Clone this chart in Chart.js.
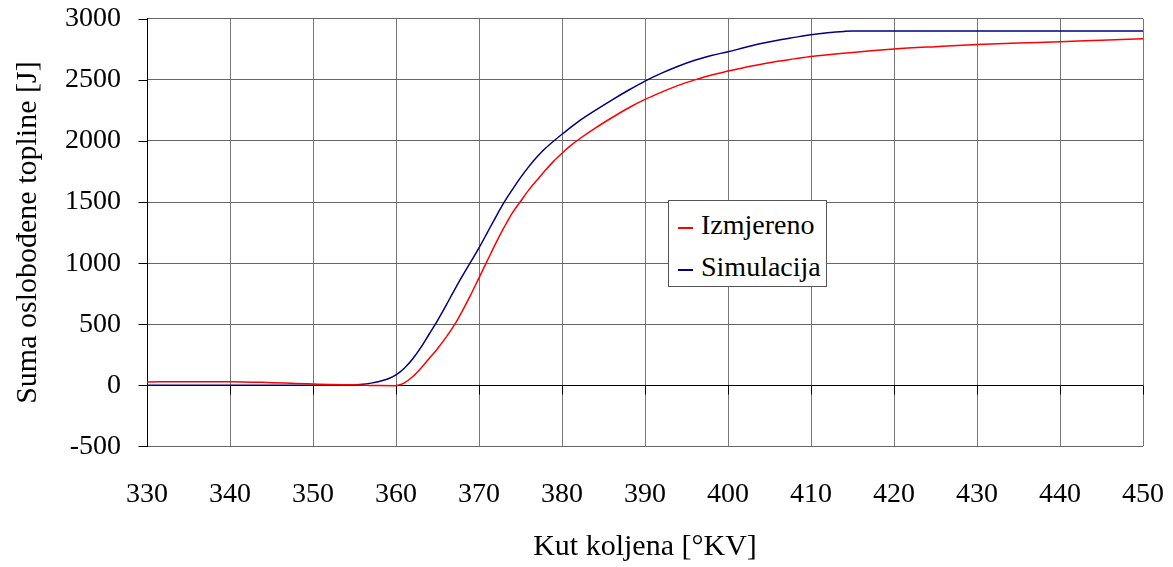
<!DOCTYPE html>
<html>
<head>
<meta charset="utf-8">
<script src="https://cdn.jsdelivr.net/npm/chart.js@4"></script>
<style>
  html, body { margin: 0; padding: 0; background: #fff; }
  #wrap { position: relative; width: 1173px; height: 567px; }
  #legend {
    position: absolute; left: 668px; top: 200px; width: 159px; height: 87px;
    border: 1px solid #555; background: #fff; box-sizing: border-box;
    font-family: "Liberation Serif", "Times New Roman", serif; font-size: 28px; color: #000;
  }
  .item { position: absolute; left: 9px; height: 32px; line-height: 32px; white-space: nowrap; }
  .item span.ln { display: inline-block; width: 15px; height: 2px; vertical-align: middle; margin-right: 8px; }
</style>
</head>
<body>
<div id="wrap">
  <canvas id="c" width="1173" height="567"></canvas>
  <div id="legend"></div>
</div>
<script>
// --- Data ---
const seriesNames = ["Izmjereno", "Simulacija"];
const seriesColors = ["#ff0000", "#000080"];

const angleMeasured = [330, 335, 340, 345, 348, 350, 352, 355, 358, 360, 360.5, 361, 362, 363, 364, 365, 366, 367, 368, 369, 370,
  371, 372, 373, 374, 375, 376, 377, 378, 379, 380, 381, 382, 384, 386, 388, 390, 392, 394, 396, 398, 400,
  402, 404, 406, 408, 410, 415, 420, 425, 430, 435, 440, 445, 450];
const heatMeasured = [27, 30, 30, 22, 15, 11, 7, 4, -2, -3, 5, 20, 70, 140, 220, 300, 390, 490, 610, 740, 880,
  1020, 1160, 1290, 1410, 1505, 1600, 1680, 1760, 1835, 1900, 1960, 2012, 2105, 2190, 2270, 2340, 2400, 2455, 2500, 2540, 2572,
  2602, 2628, 2652, 2672, 2692, 2725, 2752, 2772, 2790, 2802, 2812, 2825, 2837];

const angleSim = [330, 340, 350, 354, 356, 357, 358, 359, 360, 361, 362, 363, 364, 365, 366, 367, 368, 369, 370,
  371, 372, 373, 374, 375, 376, 377, 378, 379, 380, 382, 384, 386, 388, 390, 392, 394, 396, 398, 400,
  402, 404, 406, 408, 410, 412, 414, 415, 420, 430, 440, 450];
const heatSim = [0, 0, 0, 2, 8, 18, 32, 52, 85, 140, 215, 310, 420, 530, 650, 775, 895, 1010, 1125,
  1250, 1375, 1495, 1600, 1700, 1790, 1870, 1940, 2000, 2055, 2160, 2250, 2335, 2415, 2490, 2555, 2612, 2660, 2700, 2730,
  2765, 2798, 2825, 2848, 2870, 2886, 2897, 2900, 2900, 2900, 2900, 2900];

const xTitle = "Kut koljena [°KV]";
const yTitle = "Suma oslobođene topline [J]";

const FONT = "'Liberation Serif', 'Times New Roman', serif";
const NOTICK = "rgba(0,0,0,0)";

function toPoints(xs, ys) {
  return xs.map((x, i) => ({ x, y: ys[i] }));
}

// --- axis marks: zero line with small x ticks, short y ticks on the left ---
const axisMarks = {
  id: "axisMarks",
  beforeDatasetsDraw(chart) {
    const { ctx, scales: { x, y } } = chart;
    const y0 = Math.round(y.getPixelForValue(0)) + 0.5;
    const xl = Math.round(x.left) + 0.5;
    ctx.save();
    ctx.strokeStyle = "#000";
    ctx.lineWidth = 1;
    ctx.beginPath();
    ctx.moveTo(x.left, y0);
    ctx.lineTo(x.right, y0);
    x.ticks.forEach(t => {
      const px = Math.round(x.getPixelForValue(t.value)) + 0.5;
      ctx.moveTo(px, y0);
      ctx.lineTo(px, y0 + 9);
    });
    y.ticks.forEach(t => {
      const py = Math.round(y.getPixelForValue(t.value)) + 0.5;
      ctx.moveTo(xl - 9, py);
      ctx.lineTo(xl, py);
    });
    ctx.stroke();
    ctx.restore();
  }
};

const chart = new Chart(document.getElementById("c").getContext("2d"), {
  type: "line",
  data: {
    datasets: [
      { label: seriesNames[0], data: toPoints(angleMeasured, heatMeasured), borderColor: seriesColors[0], borderWidth: 1.5, pointRadius: 0, cubicInterpolationMode: "monotone", fill: false },
      { label: seriesNames[1], data: toPoints(angleSim, heatSim), borderColor: seriesColors[1], borderWidth: 1.5, pointRadius: 0, cubicInterpolationMode: "monotone", fill: false }
    ]
  },
  options: {
    responsive: false,
    animation: false,
    layout: { padding: { left: 10, right: 8, top: 5, bottom: 0 } },
    plugins: { legend: { display: false }, tooltip: { enabled: false } },
    scales: {
      x: {
        type: "linear",
        min: 330, max: 450,
        ticks: { stepSize: 10, color: "#000", padding: 9, font: { family: FONT, size: 28 }, callback: v => String(v) },
        grid: { color: "#777", tickLength: 22, tickColor: NOTICK },
        border: { display: false },
        title: { display: true, text: xTitle, color: "#000", font: { family: FONT, size: 30 }, padding: { top: 9, bottom: 2 } }
      },
      y: {
        min: -500, max: 3000,
        ticks: { stepSize: 500, color: "#000", padding: 2, font: { family: FONT, size: 28 }, callback: v => String(v) },
        grid: { color: "#666", tickLength: 24, tickColor: NOTICK },
        border: { display: true, color: "#000", width: 1 },
        title: { display: true, text: yTitle, color: "#000", font: { family: FONT, size: 30 }, padding: { top: 0, bottom: 17 } }
      }
    }
  },
  plugins: [axisMarks]
});

// --- HTML legend built from the datasets ---
const legendEl = document.getElementById("legend");
chart.data.datasets.forEach((ds, i) => {
  const item = document.createElement("div");
  item.className = "item";
  item.style.top = (8 + i * 42) + "px";
  item.innerHTML = `<span class="ln" style="background:${ds.borderColor}"></span>${ds.label}`;
  legendEl.appendChild(item);
});
</script>
</body>
</html>
